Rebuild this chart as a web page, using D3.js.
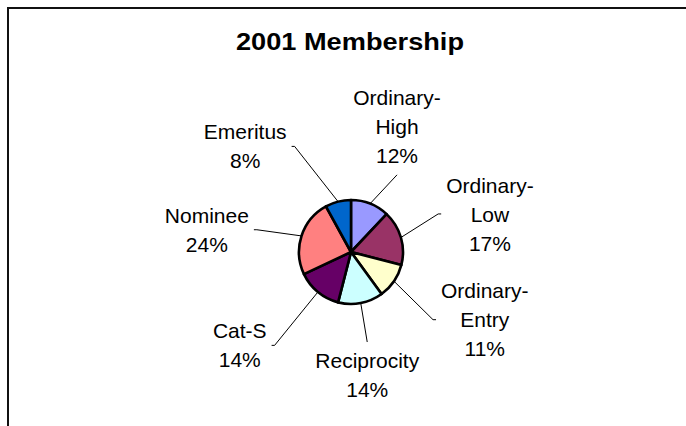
<!DOCTYPE html>
<html>
<head>
<meta charset="utf-8">
<script src="https://cdn.jsdelivr.net/npm/d3@7"></script>
<style>
  html, body { margin: 0; padding: 0; background: #fff; }
  svg { display: block; }
</style>
</head>
<body>
<svg id="chart" width="686" height="426"></svg>
<script>
// ---- data ----
const categories = ["Ordinary-High", "Ordinary-Low", "Ordinary-Entry", "Reciprocity", "Cat-S", "Nominee", "Emeritus"];
const percentages = [12, 17, 11, 14, 14, 24, 8];
const sliceColors = ["#9999FF", "#993366", "#FFFFCC", "#CCFFFF", "#660066", "#FF8080", "#0066CC"];
const chartTitle = "2001 Membership";

// ---- layout ----
const W = 686, H = 426;
const cx = 351, cy = 252, R = 52;
const labelRadius = 140;
const labelFont = 21, lineH = 29;
// small per-label nudges (layout only) relative to the label-arc position
const labelNudge = [[-5.5, 5], [4.5, 1], [18, -11], [-10, -15], [-22, -14.5], [-11, 21], [-71, 30]];

const svg = d3.select("#chart");
const FONT = "Arial, 'Liberation Sans', sans-serif";

// frame (cut off on the right and bottom like the original)
svg.append("path")
  .attr("d", `M8,${H + 5} L8,8 L${W + 5},8`)
  .attr("fill", "none").attr("stroke", "#111").attr("stroke-width", 2);

svg.append("text")
  .attr("x", 350).attr("y", 50)
  .attr("text-anchor", "middle")
  .attr("font-family", FONT)
  .attr("font-weight", "bold").attr("font-size", 24)
  .attr("textLength", 228).attr("lengthAdjust", "spacingAndGlyphs")
  .attr("fill", "#000")
  .text(chartTitle);

const data = categories.map((c, i) => ({ name: c, value: percentages[i], color: sliceColors[i], i }));
const pie = d3.pie().value(d => d.value).sort(null);
const arcs = pie(data);
const arc = d3.arc().innerRadius(0).outerRadius(R);

const g = svg.append("g").attr("transform", `translate(${cx},${cy})`);

g.selectAll("path.slice").data(arcs).join("path")
  .attr("class", "slice")
  .attr("d", arc)
  .attr("fill", d => d.data.color)
  .attr("stroke", "#000").attr("stroke-width", 2.6).attr("stroke-linejoin", "round");

function splitName(n) {
  if (n.length > 8 && n.indexOf("-") > 0) {
    const k = n.indexOf("-");
    return [n.slice(0, k + 1), n.slice(k + 1)];
  }
  return [n];
}

const measure = svg.append("text")
  .attr("font-family", FONT)
  .attr("font-size", labelFont).attr("visibility", "hidden");
function textW(s) { measure.text(s); return measure.node().getComputedTextLength(); }

const labelArc = d3.arc().innerRadius(labelRadius).outerRadius(labelRadius);

arcs.forEach((a, i) => {
  const lines = splitName(a.data.name).concat([a.data.value + "%"]);
  const mid = (a.startAngle + a.endAngle) / 2;
  const c = labelArc.centroid(a);
  const lx = c[0] + labelNudge[i][0], ly = c[1] + labelNudge[i][1];
  const bw = d3.max(lines, textW);
  const bh = lines.length * lineH;
  const top = ly - bh / 2;

  const t = g.append("text")
    .attr("text-anchor", "middle")
    .attr("font-family", FONT)
    .attr("font-size", labelFont).attr("fill", "#000");
  lines.forEach((ln, k) => {
    t.append("tspan").attr("x", lx).attr("y", top + k * lineH + lineH / 2 + labelFont * 0.36).text(ln);
  });

  // leader line from pie edge at mid-angle to the near edge of the label block
  const sx = Math.sin(mid) * R, sy = -Math.cos(mid) * R;
  const a360 = (Math.atan2(lx, -ly) * 180 / Math.PI + 360) % 360;
  let ex, ey, hx = null;
  const gap = 5;
  if (a360 < 30 || a360 > 335) { ex = lx; ey = ly + bh / 2 + 4.5; }
  else if (a360 > 155 && a360 < 205) { ex = lx; ey = top - 3.5; }
  else if (lx > 0) { ex = lx - bw / 2 - gap; ey = ly; hx = ex - 3; }
  else { ex = lx + bw / 2 + gap; ey = ly; hx = ex + 3; }

  let d = `M${sx},${sy} L${hx !== null ? hx : ex},${ey}`;
  if (hx !== null) d += ` L${ex},${ey}`;
  g.append("path").attr("d", d)
    .attr("fill", "none").attr("stroke", "#000").attr("stroke-width", 1);
});
measure.remove();
</script>
</body>
</html>
